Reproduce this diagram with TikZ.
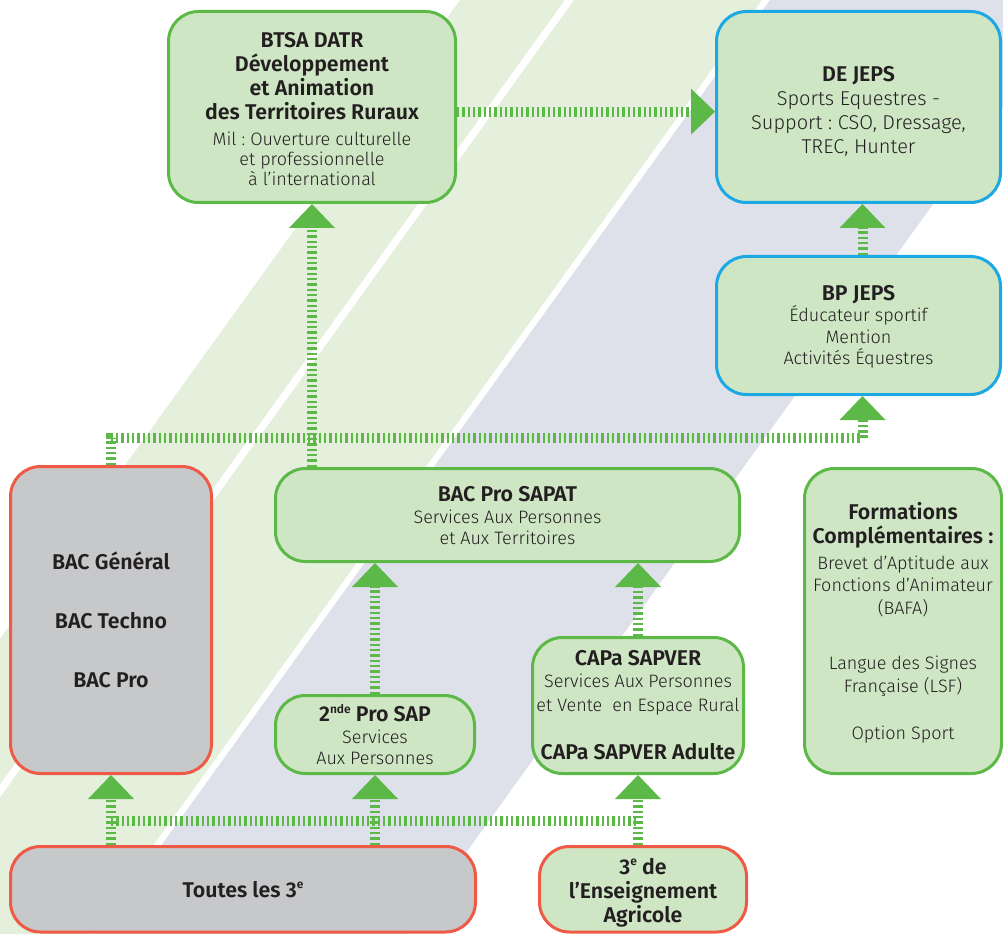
\documentclass[tikz,border=0pt]{standalone}
\usepackage{fontspec}
\IfFontExistsTF{Fira Sans Light}{%
  \IfFontExistsTF{Fira Sans SemiBold}{\setmainfont{Fira Sans Light}[BoldFont={Fira Sans SemiBold}]}{%
    \IfFontExistsTF{Fira Sans Bold}{\setmainfont{Fira Sans Light}[BoldFont={Fira Sans Bold}]}{\setmainfont{Fira Sans}}}}{%
  \setmainfont{Fira Sans}}
\usetikzlibrary{arrows.meta}
\definecolor{bggreen}{HTML}{E4EFDC}
\definecolor{bggray}{HTML}{DEE1E9}
\definecolor{boxgreen}{HTML}{CFE6C5}
\definecolor{linegreen}{HTML}{5CB947}
\definecolor{lineblue}{HTML}{1CA8E3}
\definecolor{linered}{HTML}{EF5A47}
\definecolor{boxgray}{HTML}{C7C8CA}
\definecolor{ink}{HTML}{231F20}
\setlength\parindent{0pt}
\frenchspacing
\newcommand\hd{\bfseries\fontsize{16}{18}\selectfont}
\newcommand\tx{\mdseries\fontsize{13.5}{16}\selectfont}
\newcommand\txl{\mdseries\fontsize{15}{18}\selectfont}
\newcommand\cl[1]{\hbox to\hsize{\hss#1\hss}}
\newcommand\sups[1]{\raisebox{0.75ex}{\fontsize{9}{9}\selectfont #1}}
\begin{document}
\begin{tikzpicture}[x=0.75pt,y=-0.75pt,
  card/.style={rounded corners=22.5pt, line width=2.25pt, inner sep=0pt, text=ink},
  gcard/.style={card, draw=linegreen, fill=boxgreen},
  bcard/.style={card, draw=lineblue, fill=boxgreen},
  rcard/.style={card, draw=linered, fill=boxgray},
  rgcard/.style={card, draw=linered, fill=boxgreen},
  conn/.style={draw=linegreen, line width=7.5pt, dash pattern=on 1.8pt off 2.2pt},
  arr/.style={-{Triangle[width=34.5pt,length=18pt,line width=0pt]}}
]
\path[use as bounding box] (0,0) rectangle (1003,934);
\begin{scope}
\clip (0,0) rectangle (1003,934);
\fill[bggreen] (460,0) -- (762,0) -- (762-672.5,934) -- (460-672.5,934) -- cycle;
\fill[white] (565,0) -- (574,0) -- (574-672.5,934) -- (565-672.5,934) -- cycle;
\fill[bggray] (770,0) -- (1080,0) -- (1080-672.5,934) -- (770-672.5,934) -- cycle;

% boxes
\node[gcard, minimum width=215.25pt, minimum height=143.25pt] (btsa) at (312,107)
  {\vbox{\hsize=200pt\kern3pt\hd\cl{BTSA DATR}\cl{Développement}\cl{et Animation}\cl{des Territoires Ruraux}\tx\baselineskip=15pt\vskip5pt
   \cl{Mil : Ouverture culturelle}\cl{et professionnelle}\cl{à l’international}}};
\node[bcard, minimum width=213pt, minimum height=143.25pt] (dejeps) at (858.5,107)
  {\vbox{\hsize=200pt\kern6pt\hd\cl{DE JEPS}\txl\cl{Sports Equestres -}\cl{Support : CSO, Dressage,}\cl{TREC, Hunter}}};
\node[bcard, minimum width=213pt, minimum height=103.5pt] (bpjeps) at (858.5,325.5)
  {\vbox{\hsize=200pt\kern2pt\hd\cl{BP JEPS}\tx\cl{Éducateur sportif}\cl{Mention}\cl{Activités Équestres}}};
\node[rcard, minimum width=150.75pt, minimum height=230.25pt] (bac) at (111,620)
  {\vbox{\hsize=140pt\hd\cl{BAC Général}\vskip26pt\cl{BAC Techno}\vskip26pt\cl{BAC Pro}}};
\node[gcard, minimum width=348pt, minimum height=69.75pt] (sapat) at (507.5,515)
  {\vbox{\hsize=300pt\kern1pt\hd\cl{BAC Pro SAPAT}\tx\cl{Services Aux Personnes}\cl{et Aux Territoires}}};
\node[gcard, minimum width=147.75pt, minimum height=228.75pt] (formations) at (903,621)
  {\vbox{\hsize=140pt\kern3pt\hd\cl{Formations}\cl{Complémentaires :}\tx\baselineskip=16.9pt\vskip2.5pt
   \cl{Brevet d’Aptitude aux}\cl{Fonctions d’Animateur}\cl{(BAFA)}\vskip24.4pt
   \cl{Langue des Signes}\cl{Française (LSF)}\vskip19pt\cl{Option Sport}}};
\node[gcard, minimum width=149.25pt, minimum height=58.5pt] (seconde) at (375,734.5)
  {\vbox{\hsize=140pt\hd\cl{2\sups{nde} Pro SAP}\tx\cl{Services}\cl{Aux Personnes}}};
\node[gcard, minimum width=158.25pt, minimum height=102pt] (capa) at (638,705.5)
  {\vbox{\hsize=150pt\hd\cl{CAPa SAPVER}\tx\cl{Services Aux Personnes}\baselineskip=18pt\cl{et Vente\ \ en Espace Rural}
   \hd\vskip18.4pt\cl{CAPa SAPVER Adulte}}};
\node[rcard, minimum width=348.75pt, minimum height=64.125pt] (toutes) at (243,889.25)
  {\vbox{\hsize=300pt\hd\cl{Toutes les 3\sups{e}}}};
\node[rgcard, minimum width=155.25pt, minimum height=64.125pt] (troisieme) at (643,889.25)
  {\vbox{\hsize=145pt\kern5pt\hd\cl{3\sups{e} de}\cl{l’Enseignement}\cl{Agricole}}};

% connectors
\coordinate (hmid) at (0,438);
\coordinate (hlow) at (0,821);
\coordinate (bpin) at ([xshift=3pt]bpjeps.south);
\coordinate (bpout) at ([xshift=3pt]bpjeps.north);
\coordinate (dein) at ([xshift=3pt]dejeps.south);
\coordinate (btout) at ([yshift=-3.5pt]btsa.east);
\coordinate (dewest) at ([yshift=-3.5pt]dejeps.west);
\draw[conn,arr] (btout) -- (dewest);
\draw[conn,arr] (bpout) -- (dein);
\draw[conn,arr] (sapat.north -| btsa.south) -- (btsa.south);
\draw[conn,arr] (bac.north) -- (bac.north |- hmid) -- (bpin |- hmid) -- (bpin);
\draw[conn] (bac.south |- hlow) -- (capa.south |- hlow);
\draw[conn,arr] (toutes.north -| bac.south) -- (bac.south);
\draw[conn,arr] (toutes.north -| seconde.south) -- (seconde.south);
\draw[conn,arr] (troisieme.north -| capa.south) -- (capa.south);
\draw[conn,arr] (seconde.north) -- (seconde.north |- sapat.south);
\draw[conn,arr] (capa.north) -- (capa.north |- sapat.south);
\end{scope}
\end{tikzpicture}
\end{document}
